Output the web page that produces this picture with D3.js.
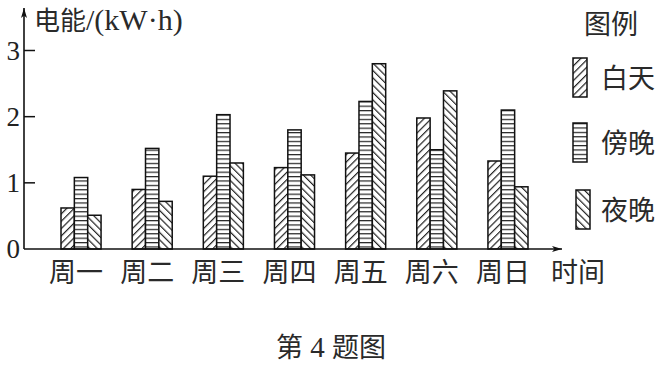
<!DOCTYPE html>
<html>
<head>
<meta charset="utf-8">
<script src="https://cdn.jsdelivr.net/npm/d3@7"></script>
<style>
  body { margin: 0; background: #fff; }
  svg { display: block; }
  .zh { font-family: "Noto Sans CJK SC", sans-serif; }
  .num { font-family: "Liberation Serif", "DejaVu Serif", serif; }
</style>
</head>
<body>
<div id="chart"></div>
<script>
'use strict';

const days = ["周一", "周二", "周三", "周四", "周五", "周六", "周日"];
const series = ["白天", "傍晚", "夜晚"];
const dayValues = [0.62, 0.9, 1.1, 1.23, 1.45, 1.98, 1.33];
const duskValues = [1.08, 1.52, 2.03, 1.8, 2.23, 1.5, 2.1];
const nightValues = [0.51, 0.72, 1.3, 1.12, 2.8, 2.39, 0.94];
const yTicks = [1, 2, 3];

const m = { width: 666, height: 365 };

const svg = d3.select("#chart").append("svg")
  .attr("width", m.width)
  .attr("height", m.height);

// hatch patterns
const defs = svg.append("defs");
function hatch(id, size, angle) {
  const p = defs.append("pattern")
    .attr("id", id)
    .attr("patternUnits", "userSpaceOnUse")
    .attr("width", size)
    .attr("height", size);
  if (angle !== null) p.attr("patternTransform", "rotate(" + angle + ")");
  p.append("rect").attr("width", size).attr("height", size).attr("fill", "#fff");
  p.append("line")
    .attr("x1", angle !== null ? 0.6 : 0).attr("x2", angle !== null ? 0.6 : size)
    .attr("y1", angle !== null ? 0 : 0.6).attr("y2", angle !== null ? size : 0.6)
    .attr("stroke", "#222").attr("stroke-width", 1.2);
}
hatch("p-day", 5.2, 45);
hatch("p-dusk", 4.4, null);
hatch("p-night", 5.2, -45);
const fills = ["url(#p-day)", "url(#p-dusk)", "url(#p-night)"];

const x = d3.scaleBand()
  .domain(days)
  .range([61, 528])
  .paddingInner(0.437)
  .paddingOuter(0);

const xs = d3.scaleBand()
  .domain(series)
  .range([0, x.bandwidth()]);

const y = d3.scaleLinear()
  .domain([0, 3])
  .range([249, 50.5]);

const rows = days.map((d, i) => ({
  day: d,
  vals: [dayValues[i], duskValues[i], nightValues[i]]
}));

// bars
const groups = svg.selectAll(".grp")
  .data(rows)
  .enter()
  .append("g")
  .attr("class", "grp")
  .attr("transform", d => "translate(" + x(d.day) + ",0)");

groups.selectAll("rect")
  .data(d => d.vals.map((v, j) => ({ s: series[j], v: v, j: j })))
  .enter()
  .append("rect")
  .attr("x", d => xs(d.s))
  .attr("y", d => y(d.v))
  .attr("width", xs.bandwidth())
  .attr("height", d => y(0) - y(d.v))
  .attr("fill", d => fills[d.j])
  .attr("stroke", "#111")
  .attr("stroke-width", 1.5);

// axes
const x0 = 24;
svg.append("defs").append("marker")
  .attr("id", "arrow")
  .attr("viewBox", "0 0 10 6")
  .attr("refX", 10).attr("refY", 3)
  .attr("markerWidth", 10).attr("markerHeight", 6)
  .attr("markerUnits", "userSpaceOnUse")
  .attr("orient", "auto")
  .append("path")
  .attr("d", "M0,0 L10,3 L0,6 L2.5,3 Z")
  .attr("fill", "#111");

svg.append("line")
  .attr("x1", x0).attr("y1", y(0))
  .attr("x2", x0).attr("y2", 8)
  .attr("stroke", "#111").attr("stroke-width", 1.6)
  .attr("marker-end", "url(#arrow)");

svg.append("line")
  .attr("x1", x0).attr("y1", y(0))
  .attr("x2", 562).attr("y2", y(0))
  .attr("stroke", "#111").attr("stroke-width", 1.6)
  .attr("marker-end", "url(#arrow)");

svg.selectAll(".tick")
  .data(yTicks)
  .enter()
  .append("line")
  .attr("x1", x0).attr("x2", x0 + 11)
  .attr("y1", d => y(d)).attr("y2", d => y(d))
  .attr("stroke", "#111").attr("stroke-width", 1.5);

svg.selectAll(".ylab")
  .data([0].concat(yTicks))
  .enter()
  .append("text")
  .attr("class", "num")
  .attr("x", 20)
  .attr("y", d => y(d) + 9)
  .attr("text-anchor", "end")
  .style("font-size", "27px")
  .attr("fill", "#222")
  .text(d => d);

svg.selectAll(".xlab")
  .data(days)
  .enter()
  .append("text")
  .attr("class", "zh")
  .attr("x", d => x(d) + x.bandwidth() / 2 - 5)
  .attr("y", 282)
  .attr("text-anchor", "middle")
  .style("font-size", "27px")
  .attr("fill", "#2a2a2a")
  .text(d => d);

svg.append("text")
  .attr("class", "zh")
  .attr("x", 551).attr("y", 282)
  .style("font-size", "27px")
  .attr("fill", "#2a2a2a")
  .text("时间");

// y title
const yt = svg.append("text")
  .attr("x", 34).attr("y", 30)
  .attr("fill", "#2a2a2a");
yt.append("tspan").attr("class", "zh").style("font-size", "26px").text("电能");
yt.append("tspan").attr("class", "num").style("font-size", "30px").text("/(kW·h)");

// legend
svg.append("text")
  .attr("class", "zh")
  .attr("x", 584).attr("y", 34)
  .style("font-size", "27px")
  .attr("fill", "#2a2a2a")
  .text("图例");

const legX = [573, 573, 576];
const legY = [58, 123, 190];
const legend = svg.selectAll(".leg")
  .data(series)
  .enter()
  .append("g")
  .attr("transform", (d, i) => "translate(" + legX[i] + "," + legY[i] + ")");

legend.append("rect")
  .attr("width", 14).attr("height", 39)
  .attr("fill", (d, i) => fills[i])
  .attr("stroke", "#111").attr("stroke-width", 1.5);

legend.append("text")
  .attr("class", "zh")
  .attr("x", (d, i) => 601 - legX[i])
  .attr("y", 30)
  .style("font-size", "27px")
  .attr("fill", "#2a2a2a")
  .text(d => d);

// caption
const cap = svg.append("text")
  .attr("x", 331).attr("y", 357)
  .attr("text-anchor", "middle")
  .attr("fill", "#2a2a2a");
cap.append("tspan").attr("class", "zh").style("font-size", "27px").text("第");
cap.append("tspan").attr("class", "num").style("font-size", "29px").text(" 4 ");
cap.append("tspan").attr("class", "zh").style("font-size", "27px").text("题图");
</script>
</body>
</html>
